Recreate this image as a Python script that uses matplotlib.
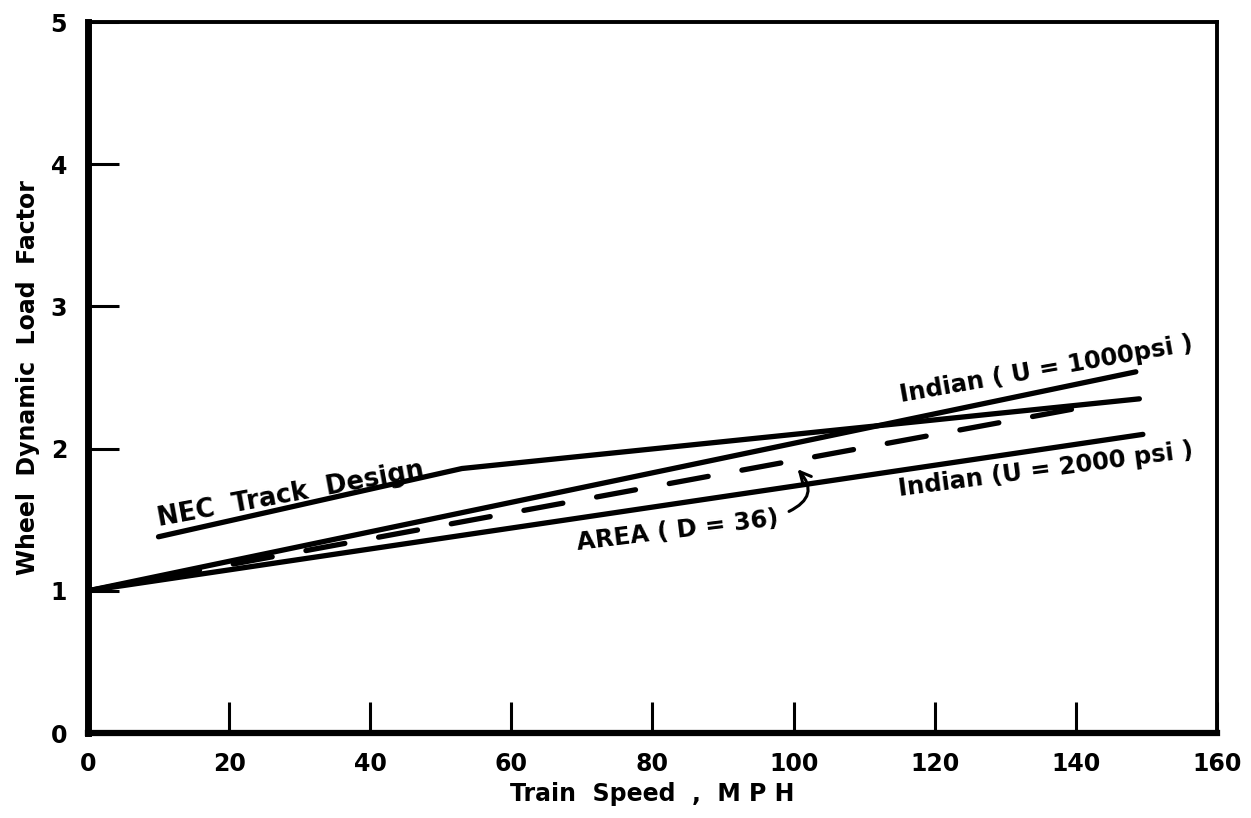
import numpy as np
import matplotlib
matplotlib.use("Agg")
import matplotlib.pyplot as plt

# curves (speed in mph, dynamic load factor)
nec_speed = [10, 53, 149]
nec_factor = [1.38, 1.86, 2.35]

ind1000_speed = [0, 148.5]
ind1000_factor = [1.0, 2.54]

ind2000_speed = [0, 149.5]
ind2000_factor = [1.0, 2.10]

area_speed = [0, 142]
area_factor = [1.0, 2.30]

xticks = [0, 20, 40, 60, 80, 100, 120, 140, 160]
yticks = [0, 1, 2, 3, 4, 5]

plt.rcParams['font.family'] = ['DejaVu Sans']
plt.rcParams['font.weight'] = 'bold'

fig = plt.figure(figsize=(12.51, 8.18), dpi=100)
ax = fig.add_axes([0.0703, 0.1039, 0.9025, 0.8692])

lw = 3.8
ax.plot(nec_speed, nec_factor, color='black', lw=lw, solid_capstyle='round')
ax.plot(ind1000_speed, ind1000_factor, color='black', lw=lw, solid_capstyle='round')
ax.plot(ind2000_speed, ind2000_factor, color='black', lw=lw, solid_capstyle='round')
ax.plot(area_speed, area_factor, color='black', lw=lw, linestyle=(0, (7.5, 6.5)),
        dash_capstyle='round')

ax.set_xlim(0, 160)
ax.set_ylim(0, 5)
ax.set_xticks(xticks)
ax.set_yticks(yticks)
ax.tick_params(axis='both', direction='in', length=22, width=2.2, labelsize=17)
ax.tick_params(axis='x', pad=14)
ax.tick_params(axis='y', pad=15)
for lab in ax.get_xticklabels() + ax.get_yticklabels():
    lab.set_fontweight('bold')

ax.spines['left'].set_linewidth(5)
ax.spines['bottom'].set_linewidth(4.5)
ax.spines['top'].set_linewidth(2.8)
ax.spines['right'].set_linewidth(2.8)

ax.set_xlabel('Train  Speed  ,  M P H', fontsize=17, fontweight='bold', labelpad=4)
ax.set_ylabel('Wheel  Dynamic  Load  Factor', fontsize=17, fontweight='bold', labelpad=8)

ax.text(28.8, 1.68, 'NEC  Track  Design', rotation=10.5, fontsize=18.5,
        ha='center', va='center', rotation_mode='anchor')
ax.text(135.8, 2.56, 'Indian ( U = 1000psi )', rotation=10, fontsize=17.5,
        ha='center', va='center', rotation_mode='anchor')
ax.text(135.8, 1.85, 'Indian (U = 2000 psi )', rotation=7.5, fontsize=17.5,
        ha='center', va='center', rotation_mode='anchor')
ax.text(83.5, 1.42, 'AREA ( D = 36)', rotation=7, fontsize=17.5,
        ha='center', va='center', rotation_mode='anchor')
ax.annotate('', xy=(100.3, 1.87), xytext=(99.0, 1.55),
            arrowprops=dict(arrowstyle='->', lw=2.2, color='black',
                            connectionstyle='arc3,rad=0.7', mutation_scale=20))

fig.savefig('out.png', dpi=100)
